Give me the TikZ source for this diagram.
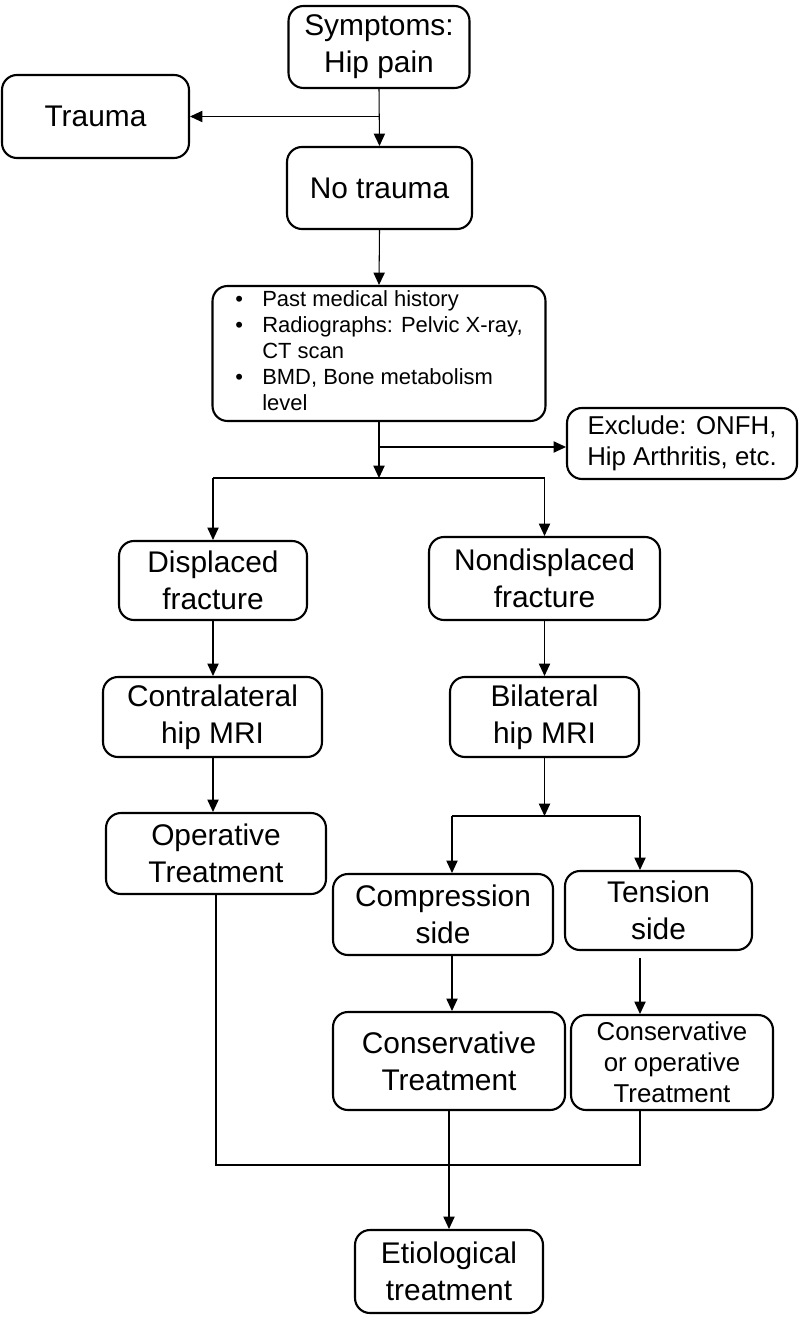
\documentclass[tikz,border=0pt]{standalone}
\usepackage{fontspec}
\setmainfont{Liberation Sans}
\usetikzlibrary{arrows.meta,calc}
\tikzset{
  box/.style={draw, line width=1.2pt, rounded corners=8.5pt, align=center, inner sep=0pt,
    font=\fontsize{17}{21}\selectfont},
  smallbox/.style={box, font=\fontsize{14.7}{17.6}\selectfont},
  conn/.style={line width=0.6pt},
  arr/.style={conn, -{Triangle[length=7pt,width=6.4pt]}},
}
\begin{document}
\begin{tikzpicture}[x=0.02cm, y=-0.02cm]
\useasboundingbox (0,0) rectangle (800,1317);

\node[box, minimum width=3.62cm, minimum height=1.64cm] (sym) at (379,47) {Symptoms:\\Hip pain};
\node[box, minimum width=3.74cm, minimum height=1.66cm] (trauma) at (95.5,116.5) {Trauma};
\node[box, minimum width=3.70cm, minimum height=1.64cm] (notrauma) at (379.5,188) {No trauma};
\node[box, minimum width=6.66cm, minimum height=2.70cm, font=\fontsize{12.5}{14.8}\selectfont] (hist) at (379,353.5)
  {\begin{tabular}{@{}p{0.54cm}@{}l@{}}
   • & Past medical history\\
   • & Radiographs: Pelvic X-ray,\\
     & CT scan\\
   • & BMD, Bone metabolism\\
     & level
   \end{tabular}};
\node[smallbox, minimum width=4.60cm, minimum height=1.42cm] (excl) at (682,443.5) {Exclude: ONFH,\\Hip Arthritis, etc.};
\node[box, minimum width=3.76cm, minimum height=1.58cm] (disp) at (213,580.5) {Displaced\\fracture};
\node[box, minimum width=4.62cm, minimum height=1.66cm] (nondisp) at (544.5,578.5) {Nondisplaced\\fracture};
\node[box, minimum width=4.38cm, minimum height=1.60cm] (contra) at (212.5,717) {Contralateral\\hip MRI};
\node[box, minimum width=3.78cm, minimum height=1.60cm] (bilat) at (544.5,717) {Bilateral\\hip MRI};
\node[box, minimum width=4.40cm, minimum height=1.62cm] (oper) at (216,853.5) {Operative\\Treatment};
\node[box, minimum width=4.40cm, minimum height=1.62cm] (comp) at (443,914.5) {Compression\\side};
\node[box, minimum width=3.74cm, minimum height=1.58cm] (tens) at (658.5,910.5) {Tension\\side};
\node[box, minimum width=4.64cm, minimum height=1.96cm] (cons) at (449,1061) {Conservative\\Treatment};
\node[smallbox, minimum width=4.04cm, minimum height=1.90cm] (consop) at (672,1062.5) {Conservative\\or operative\\Treatment};
\node[box, minimum width=3.76cm, minimum height=1.66cm] (etio) at (449,1271.5) {Etiological\\treatment};

\coordinate (s1) at (379,478);
\coordinate (cL) at (452,816);
\coordinate (cR) at (640,816);

% top
\draw[arr] (sym.south) -- (notrauma.north);
\draw[arr] (sym.south |- trauma.east) -- (trauma.east);
\draw[arr] (notrauma.south) -- (hist.north);
\draw[arr] (hist.south) -- (s1);
\draw[arr] (hist.south |- 0,447) -- (excl.west |- 0,447);
\draw[conn] (disp.north |- s1) -- (nondisp.north |- s1);
\draw[arr] (disp.north |- s1) -- (disp.north);
\draw[arr] (nondisp.north |- s1) -- (nondisp.north);

% left branch
\draw[arr] (disp.south) -- (disp.south |- contra.north);
\draw[arr] (disp.south |- contra.south) -- (disp.south |- oper.north);

% right branch
\draw[arr] (nondisp.south) -- (nondisp.south |- bilat.north);
\draw[arr] (bilat.south) -- (bilat.south |- cL);
\draw[conn] (cL) -- (cR);
\draw[arr] (cL) -- (cL |- comp.north);
\draw[arr] (cR) -- (cR |- tens.north);
\draw[arr] (cL |- comp.south) -- (cL |- cons.north);
\draw[arr, shorten <=4pt] (cR |- tens.south) -- (cR |- consop.north);

% merge
\draw[conn] (oper.south) -- (oper.south |- 0,1165) -- (cR |- 0,1165) -- (cR |- consop.south);
\draw[arr] (cons.south) -- (etio.north);
\end{tikzpicture}
\end{document}
